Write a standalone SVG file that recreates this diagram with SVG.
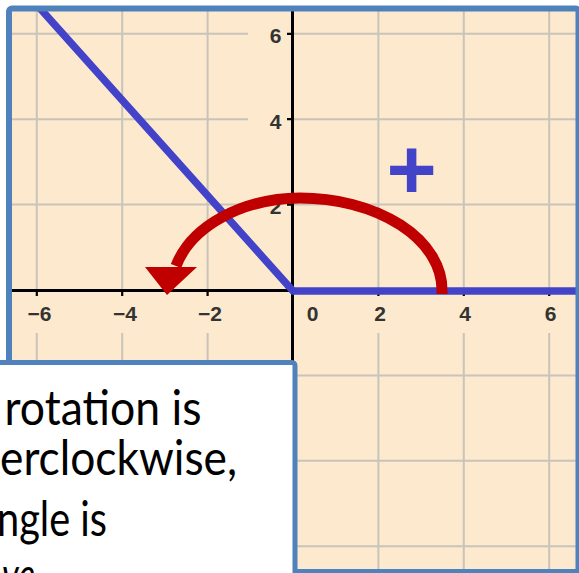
<svg xmlns="http://www.w3.org/2000/svg" width="579" height="573" viewBox="0 0 579 573">
<style>
.grid{stroke:#c9c4bb;stroke-width:2;fill:none}
.axis{stroke:#000;stroke-width:3;fill:none}
.tick{stroke:#000;stroke-width:2.2;fill:none}
.lbl{font-family:"Liberation Sans",Arial,sans-serif;font-size:21px;font-weight:bold;fill:#333}
.xl{text-anchor:middle}
.yl{text-anchor:end}
.ray{stroke:#4343c9;stroke-width:7.5;fill:none;stroke-linejoin:round}
.frame{fill:none;stroke:#4f81bd;stroke-width:6}
.note{font-family:Lato,"Open Sans",sans-serif;font-size:49px;fill:#000}
</style>
<defs>
<clipPath id="plot"><rect x="9" y="8.5" width="569.5" height="563.5"/></clipPath>
</defs>
<g id="plot-area" clip-path="url(#plot)">
<rect x="0" y="0" width="579" height="573" fill="#fde9cd"/>
<g id="gridlines">
<path class="grid" d="M36.8 0V290M122.2 0V290M207.6 0V290M378.4 0V290M463.8 0V290M549.2 0V290"/>
<path class="grid" d="M36.8 333V573M122.2 333V573M207.6 333V573M378.4 333V573M463.8 333V573M549.2 333V573"/>
<path class="grid" d="M0 33.8H248M0 119.2H248M0 204.6H248M0 375.4H248M0 460.8H248M0 546.2H248"/>
<path class="grid" d="M293 33.8H579M293 119.2H579M293 204.6H579M293 375.4H579M293 460.8H579M293 546.2H579"/>
</g>
<g id="axes">
<path class="axis" d="M292.5 0V573M0 290.5H579"/>
<path class="tick" d="M36.8 290V296M122.2 290V296M207.6 290V296M378.4 290V296M463.8 290V296M549.2 290V296"/>
<path class="tick" d="M287 33.8H293M287 119.2H293M287 204.6H293M287 375.4H293M287 460.8H293"/>
</g>
<g id="axis-labels">
<text class="lbl xl" x="39.5" y="321">−6</text>
<text class="lbl xl" x="125" y="321">−4</text>
<text class="lbl xl" x="210" y="321">−2</text>
<text class="lbl xl" x="312.5" y="321">0</text>
<text class="lbl xl" x="380" y="321">2</text>
<text class="lbl xl" x="465" y="321">4</text>
<text class="lbl xl" x="550.5" y="321">6</text>
<text class="lbl yl" x="281.5" y="43.3">6</text>
<text class="lbl yl" x="281.5" y="128.7">4</text>
<text class="lbl yl" x="281.5" y="214.1">2</text>
</g>
<g id="angle-sides">
<polyline class="ray" points="20,-14 293,291 579,291"/>
</g>
<g id="sign">
<text x="411.5" y="199" font-family="Liberation Sans,Arial,sans-serif" font-weight="bold" font-size="86" fill="#4343c9" text-anchor="middle">+</text>
</g>
<g id="connectors">
<path d="M442 294V290A142 92 0 0 0 300 198A130 92 0 0 0 176 266" fill="none" stroke="#c00000" stroke-width="11"/>
<polygon points="145,267 197,267 167,295" fill="#c00000"/>
</g>
</g>
<rect class="frame" x="9" y="8.5" width="569.5" height="563.5" rx="3"/>
<g id="note">
<rect x="-20" y="362.5" width="315" height="260" rx="3" fill="#fff" stroke="#4f81bd" stroke-width="5"/>
<text class="note" x="4.5" y="425" textLength="197" lengthAdjust="spacingAndGlyphs">rotation is</text>
<text class="note" x="0" y="475" textLength="237" lengthAdjust="spacingAndGlyphs">erclockwise,</text>
<text class="note" x="-3" y="536" textLength="110" lengthAdjust="spacingAndGlyphs">ngle is</text>
<text class="note" x="2" y="592" font-style="italic" fill="#2e6db4" textLength="33" lengthAdjust="spacingAndGlyphs">ve</text>
</g>
</svg>
